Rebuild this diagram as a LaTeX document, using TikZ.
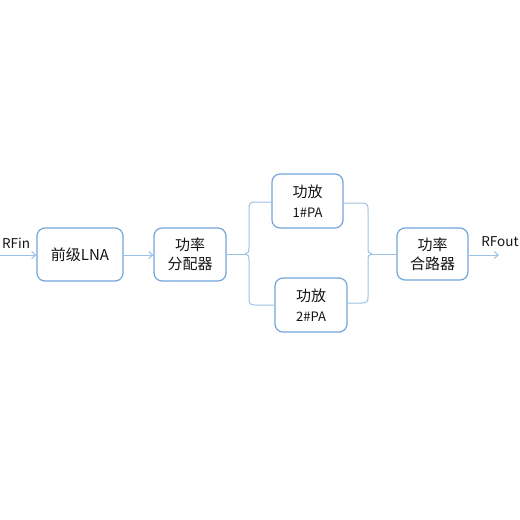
\documentclass[tikz,border=0pt]{standalone}
\usepackage{fontspec}
\setmainfont{Noto Sans CJK SC}
\usetikzlibrary{arrows.meta}
\definecolor{boxblue}{RGB}{115,165,218}
\definecolor{lineblue}{RGB}{155,193,228}
\definecolor{txt}{RGB}{20,20,20}
\begin{document}
\begin{tikzpicture}[x=1pt,y=-1pt,
  blk/.style={draw=boxblue,line width=1.2pt,rounded corners=8pt,align=center,
    inner sep=0pt,text=txt,font=\fontsize{15}{19.5}\selectfont},
  conn/.style={draw=lineblue,line width=1pt},
  arr/.style={conn,-{Straight Barb[length=4pt,width=7pt]}},
  lbl/.style={text=txt,font=\fontsize{13.5}{15}\selectfont,inner sep=0pt}]
\useasboundingbox (0,0) rectangle (520,520);
\node[blk,minimum width=86pt,minimum height=53pt] (lna) at (80,254.5) {前级LNA};
\node[blk,minimum width=72pt,minimum height=53pt] (spl) at (190,254.5) {功率\\分配器};
\node[blk,minimum width=71pt,minimum height=54pt] (pa1) at (307.5,201) {功放\\{\fontsize{13}{16}\selectfont 1\#PA}};
\node[blk,minimum width=72pt,minimum height=54pt] (pa2) at (311,305) {功放\\{\fontsize{13}{16}\selectfont 2\#PA}};
\node[blk,minimum width=71pt,minimum height=52pt] (cmb) at (432.5,254) {功率\\合路器};
\node[lbl] (rfin) at (16,243) {RFin};
\node[lbl] (rfout) at (500,242) {RFout};
\coordinate (inL) at (0,255);
\coordinate (outR) at (499,255);
% arrows
\draw[arr] (inL) -- (lna.west |- inL);
\draw[arr] (lna.east |- 0,255) -- (spl.west |- 0,255);
\draw[arr] (cmb.east |- 0,255) -- (outR);
% left brace
\coordinate (lc) at (245,254);
\draw[conn] (spl.east |- lc) -- (lc);
\draw[conn] (lc) .. controls (248,254) and (249,252) .. (249,248) -- (249,208)
  .. controls (249,204) and (250,202) .. (255,202) -- (pa1.west |- 0,202);
\draw[conn] (lc) .. controls (248,254) and (249,256) .. (249,260) -- (249,299)
  .. controls (249,303) and (250,305) .. (255,305) -- (pa2.west |- 0,305);
% right brace
\coordinate (rc) at (372,254);
\draw[conn] (pa1.east |- 0,203) -- (362,203) .. controls (367,203) and (368,205) .. (368,209)
  -- (368,248) .. controls (368,252) and (369,254) .. (rc);
\draw[conn] (pa2.east |- 0,303) -- (362,303) .. controls (367,303) and (368,301) .. (368,297)
  -- (368,260) .. controls (368,256) and (369,254) .. (rc);
\draw[conn] (rc) -- (cmb.west |- rc);
\end{tikzpicture}
\end{document}
